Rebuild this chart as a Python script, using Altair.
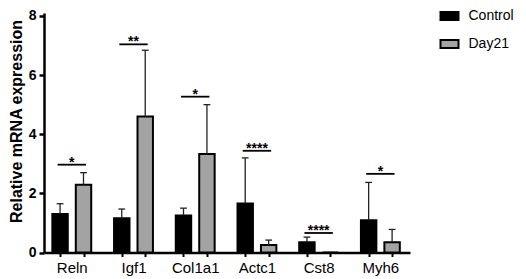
import altair as alt
import pandas as pd

genes = ["Reln", "Igf1", "Col1a1", "Actc1", "Cst8", "Myh6"]
groups = ["Control", "Day21"]
control_mean = [1.30, 1.16, 1.25, 1.66, 0.35, 1.09]
control_sd = [0.35, 0.31, 0.25, 1.54, 0.17, 1.28]
day21_mean = [2.29, 4.60, 3.33, 0.25, 0.0, 0.35]
day21_sd = [0.41, 2.24, 1.67, 0.17, 0.0, 0.43]
sig_labels = ["*", "**", "*", "****", "****", "*"]
sig_height = [2.97, 7.04, 5.27, 3.44, 0.66, 2.66]

OFF = 0.19
HALF_W = 0.125
CAP = 0.055
FONT = "Liberation Sans"

rows = []
for i, g in enumerate(genes):
    for grp, m, s, sgn in (("Control", control_mean[i], control_sd[i], -1),
                           ("Day21", day21_mean[i], day21_sd[i], 1)):
        rows.append({"gene": g, "group": grp, "idx": i, "mean": m, "sd": s,
                     "pos": i + sgn * OFF})
df = pd.DataFrame(rows)
df["x0"] = df["pos"] - HALF_W
df["x1"] = df["pos"] + HALF_W
df["top"] = df["mean"] + df["sd"]
df["c0"] = df["pos"] - CAP
df["c1"] = df["pos"] + CAP

sig = pd.DataFrame({"idx": list(range(len(genes))), "label": sig_labels, "h": sig_height})
sig["l0"] = sig["idx"] - 0.23
sig["l1"] = sig["idx"] + 0.23

tick_vals = [round(i + s * OFF, 4) for i in range(len(genes)) for s in (-1, 1)]
label_expr = str(genes) + "[round(datum.value)]"

xscale = alt.Scale(domain=[-0.45, 5.48], nice=False, zero=False)
yscale = alt.Scale(domain=[0, 8.1], nice=False)

tick_axis = alt.Axis(values=tick_vals, labels=False, title=None, grid=False, orient="bottom",
                     domainColor="black", domainWidth=2.5,
                     tickColor="black", tickWidth=2, tickSize=4)
label_axis = alt.Axis(values=list(range(len(genes))), labelExpr=label_expr, title=None,
                      grid=False, orient="bottom", domain=False, ticks=False,
                      labelOverlap=False, labelFlush=False, labelFontSize=15, labelFont=FONT,
                      labelColor="black", labelPadding=8)
yaxis = alt.Axis(values=[0, 2, 4, 6, 8], title="Relative mRNA expression", grid=False,
                 labelFontSize=14, labelFontWeight="bold", labelFont=FONT, labelColor="black",
                 titleFontSize=16, titleFontWeight="bold", titleFont=FONT, titleColor="black",
                 domainColor="black", domainWidth=2.5, tickColor="black", tickWidth=2.5,
                 tickSize=5, labelPadding=3, titlePadding=4, titleY=108)

base = alt.Chart(df)

bars = base.mark_bar(stroke="black", strokeWidth=2).encode(
    x=alt.X("x0:Q", scale=xscale, axis=tick_axis),
    x2="x1:Q",
    y=alt.Y("mean:Q", scale=yscale, axis=yaxis),
    y2=alt.datum(0),
    fill=alt.Fill("group:N", scale=alt.Scale(domain=groups, range=["black", "#a3a3a3"]),
                  legend=alt.Legend(title=None, orient="none", legendX=398.5, legendY=-4,
                                    symbolType="M-2,-0.9L2,-0.9L2,0.9L-2,0.9Z",
                                    symbolSize=81, symbolStrokeColor="black",
                                    symbolStrokeWidth=2, labelFontSize=14, labelFont=FONT,
                                    labelColor="black", labelOffset=12, rowPadding=10,
                                    padding=0)),
)

err = base.transform_filter("datum.sd > 0").mark_rule(color="#222", strokeWidth=1.3).encode(
    x=alt.X("pos:Q", axis=None), y=alt.Y("mean:Q", axis=yaxis), y2="top:Q")
caps = base.transform_filter("datum.sd > 0").mark_rule(color="#222", strokeWidth=1.3).encode(
    x=alt.X("c0:Q", axis=None), x2="c1:Q", y=alt.Y("top:Q", axis=yaxis))

sig_lines = alt.Chart(sig).mark_rule(color="black", strokeWidth=1.8).encode(
    x=alt.X("l0:Q", axis=None), x2="l1:Q", y=alt.Y("h:Q", axis=yaxis))
stars = alt.Chart(sig).mark_text(fontSize=14, fontWeight="bold", font=FONT, baseline="alphabetic",
                                 dy=2, color="black").encode(
    x=alt.X("idx:Q", axis=label_axis), y=alt.Y("h:Q", axis=yaxis), text="label:N")

chart = alt.layer(bars, err, caps, sig_lines, stars).resolve_axis(x="independent").properties(
    width=366, height=239.5,
    autosize=alt.AutoSizeParams(type="none"),
    padding={"left": 36, "top": 5, "right": 108, "bottom": 26},
).configure_view(stroke=None)

chart.save("out.html", embed_options={"renderer": "svg", "actions": False})
